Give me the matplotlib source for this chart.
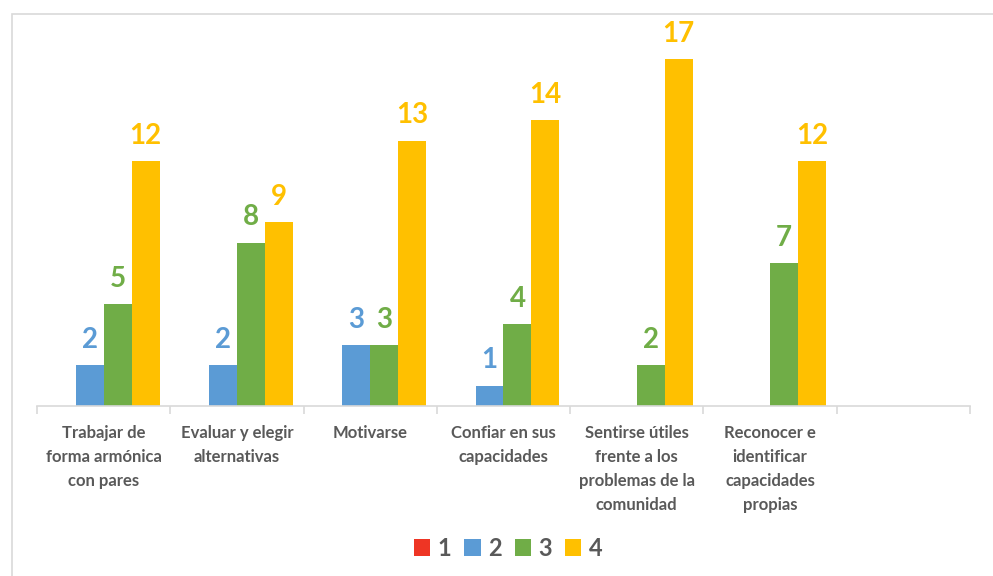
import numpy as np
import matplotlib.pyplot as plt
from matplotlib.patches import Rectangle

categorias = ["Trabajar de\nforma armónica\ncon pares",
              "Evaluar y elegir\nalternativas",
              "Motivarse",
              "Confiar en sus\ncapacidades",
              "Sentirse útiles\nfrente a los\nproblemas de la\ncomunidad",
              "Reconocer e\nidentificar\ncapacidades\npropias",
              ""]
series = ["1", "2", "3", "4"]
v1 = [0, 0, 0, 0, 0, 0, 0]
v2 = [2, 2, 3, 1, 0, 0, 0]
v3 = [5, 8, 3, 4, 2, 7, 0]
v4 = [12, 9, 13, 14, 17, 12, 0]
valores = [v1, v2, v3, v4]
colores = ["#EE3524", "#5B9BD5", "#70AD47", "#FFC000"]

plt.rcParams['font.family'] = ['Lato', 'DejaVu Sans']
gris = "#595959"

fig = plt.figure(figsize=(9.93, 5.76), dpi=100)
# marco gris del área del gráfico
fig.patches.append(Rectangle((12 / 993, -0.1), 1.1, 1.1 - 14 / 576,
                             transform=fig.transFigure, fill=False,
                             edgecolor="#D9D9D9", linewidth=1.2))

ax = fig.add_axes([37 / 993, 170 / 576, 933 / 993, 367.4 / 576])
x = np.arange(len(categorias))
ancho = 0.21
for i, (vals, col) in enumerate(zip(valores, colores)):
    pos = x + (i - 1.5) * ancho
    ax.bar(pos, vals, ancho, color=col, label=series[i], zorder=2)
    for xp, v in zip(pos, vals):
        if v > 0:
            ax.text(xp, v + 0.6, str(v), ha="center", va="bottom",
                    color=col, fontsize=20, fontweight="bold")

ax.set_xlim(-0.5, len(categorias) - 0.5)
ax.set_ylim(0, 18)
ax.set_yticks([])
for s in ["top", "right", "left"]:
    ax.spines[s].set_visible(False)
ax.spines["bottom"].set_color("#D9D9D9")
ax.spines["bottom"].set_linewidth(1.2)

ax.set_xticks(np.arange(-0.5, len(categorias)), minor=False)
ax.set_xticklabels([])
ax.tick_params(axis="x", which="major", length=6, color="#D9D9D9", width=1.2)
ax.set_xticks(x, minor=True)
ax.set_xticklabels(categorias, minor=True, fontsize=12, fontweight="bold",
                   color=gris, linespacing=1.6)
ax.tick_params(axis="x", which="minor", length=0, pad=14)

leg = fig.legend(loc="center", bbox_to_anchor=(508 / 993, 1 - 548 / 576), ncol=4,
                 frameon=False, handlelength=0.7, handleheight=0.7,
                 handletextpad=0.3, columnspacing=0.55,
                 prop={"size": 17, "weight": "bold"})
for t in leg.get_texts():
    t.set_color(gris)

fig.savefig("out.png", dpi=100)
